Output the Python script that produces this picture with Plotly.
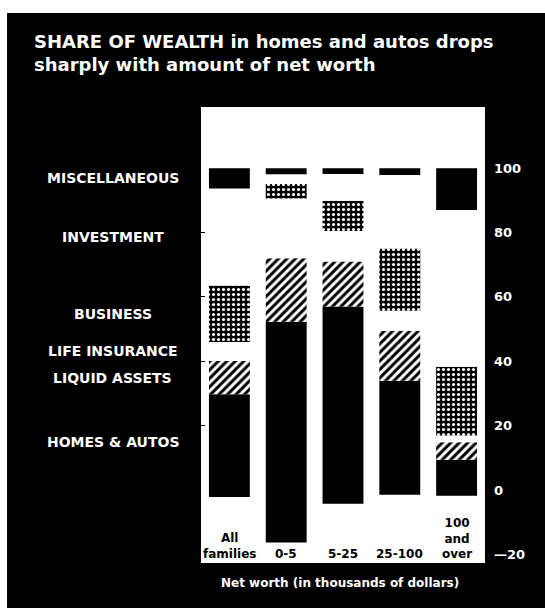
import plotly.graph_objects as go

# ---- data ----
categories = ["All families", "0-5", "5-25", "25-100", "100 and over"]
category_labels = ["All<br>families", "0-5", "5-25", "25-100", "100<br>and<br>over"]

below_zero = [-2.2, -16.3, -4.3, -1.5, -1.8]
homes_autos = [29.7, 52.3, 57.0, 33.9, 9.4]
liquid_assets = [10.4, 19.7, 14.0, 15.6, 5.4]
life_insurance = [5.9, 18.6, 9.5, 6.2, 2.1]
business = [17.5, 4.5, 9.4, 19.3, 21.4]
investment = [30.2, 3.0, 8.3, 22.9, 48.7]
miscellaneous = [6.3, 1.9, 1.8, 2.1, 13.0]

segment_names = ["HOMES & AUTOS", "LIQUID ASSETS", "LIFE INSURANCE",
                 "BUSINESS", "INVESTMENT", "MISCELLANEOUS"]
right_tick_values = [-20, 0, 20, 40, 60, 80, 100]
right_tick_labels = ["\u201420", "0", "20", "40", "60", "80", "100"]
left_tick_values = [20, 40, 60, 80]

title_text = "SHARE OF WEALTH in homes and autos drops<br>sharply with amount of net worth"
x_title = "Net worth (in thousands of dollars)"

BOLD = "DejaVu Sans"

fig = go.Figure()

# negative part of the black base
fig.add_trace(go.Bar(x=categories, y=below_zero, marker=dict(color="black", line=dict(width=0)),
                     hoverinfo="skip"))

segments = [homes_autos, liquid_assets, life_insurance, business, investment, miscellaneous]
styles = [
    dict(color="black", line=dict(width=0)),
    dict(color="white", line=dict(width=0),
         pattern=dict(shape="/", fgcolor="black", bgcolor="white", fgopacity=1,
                      size=6, solidity=0.5)),
    dict(color="white", line=dict(width=0)),
    dict(color="black", line=dict(width=0),
         pattern=dict(shape=".", fgcolor="white", bgcolor="black", fgopacity=1,
                      size=5, solidity=0.3)),
    dict(color="white", line=dict(width=0)),
    dict(color="black", line=dict(width=0)),
]
for name, vals, st in zip(segment_names, segments, styles):
    fig.add_trace(go.Bar(x=categories, y=vals, name=name, marker=st))

# invisible trace to carry the secondary (left tick) axis
fig.add_trace(go.Scatter(x=[], y=[], yaxis="y2", showlegend=False))

# segment labels at the middle of each segment of the first bar
annotations = []
cum = 0.0
for name, vals in zip(segment_names, segments):
    mid = cum + vals[0] / 2.0
    cum += vals[0]
    annotations.append(dict(text=name, xref="paper", yref="y", x=-0.31, y=mid,
                            xanchor="center", yanchor="middle", showarrow=False,
                            font=dict(family=BOLD, size=14, color="white", weight="bold")))

# category labels inside the panel
for cat, lab in zip(categories, category_labels):
    annotations.append(dict(text=lab, xref="x", yref="y", x=cat, y=-22.6,
                            xanchor="center", yanchor="bottom", showarrow=False,
                            font=dict(family=BOLD, size=12, color="black", weight="bold")))

annotations.append(dict(text=x_title, xref="paper", yref="paper", x=0.49, y=-0.044,
                        xanchor="center", yanchor="middle", showarrow=False,
                        font=dict(family=BOLD, size=12, color="white", weight="bold")))

annotations.append(dict(text=title_text, xref="paper", yref="paper", x=-0.595, y=1.172,
                        xanchor="left", yanchor="top", align="left", showarrow=False,
                        font=dict(family=BOLD, size=18, color="white", weight="bold")))

shapes = [
    # white margins of the scanned page (top and left)
    dict(type="rect", xref="paper", yref="paper", x0=-0.72, x1=1.25, y0=1.206, y1=1.25,
         fillcolor="white", line=dict(width=0), layer="above"),
    dict(type="rect", xref="paper", yref="paper", x0=-0.72, x1=-0.683, y0=-0.12, y1=1.25,
         fillcolor="white", line=dict(width=0), layer="above"),
]

fig.update_layout(
    width=545, height=608,
    margin=dict(l=201, r=60, t=107, b=45),
    paper_bgcolor="black", plot_bgcolor="white",
    barmode="relative", bargap=0.28,
    showlegend=False,
    xaxis=dict(type="category", range=[-0.5, 4.5], showticklabels=False, showgrid=False,
               zeroline=False, showline=False, ticks=""),
    yaxis=dict(range=[-22.7, 119], side="right", tickvals=right_tick_values,
               ticktext=right_tick_labels, showgrid=False, zeroline=False, showline=False,
               ticks="", ticklabelstandoff=8,
               tickfont=dict(family=BOLD, size=13, color="white", weight="bold")),
    yaxis2=dict(range=[-22.7, 119], overlaying="y", side="left", tickvals=left_tick_values,
                showticklabels=False, showgrid=False, zeroline=False, showline=False,
                ticks="inside", ticklen=4, tickcolor="black", tickwidth=1),
    annotations=annotations,
    shapes=shapes,
)

fig.write_html("out.html", config={"displayModeBar": False},
               post_script="document.body.style.margin='0';document.body.style.overflow='hidden';")
